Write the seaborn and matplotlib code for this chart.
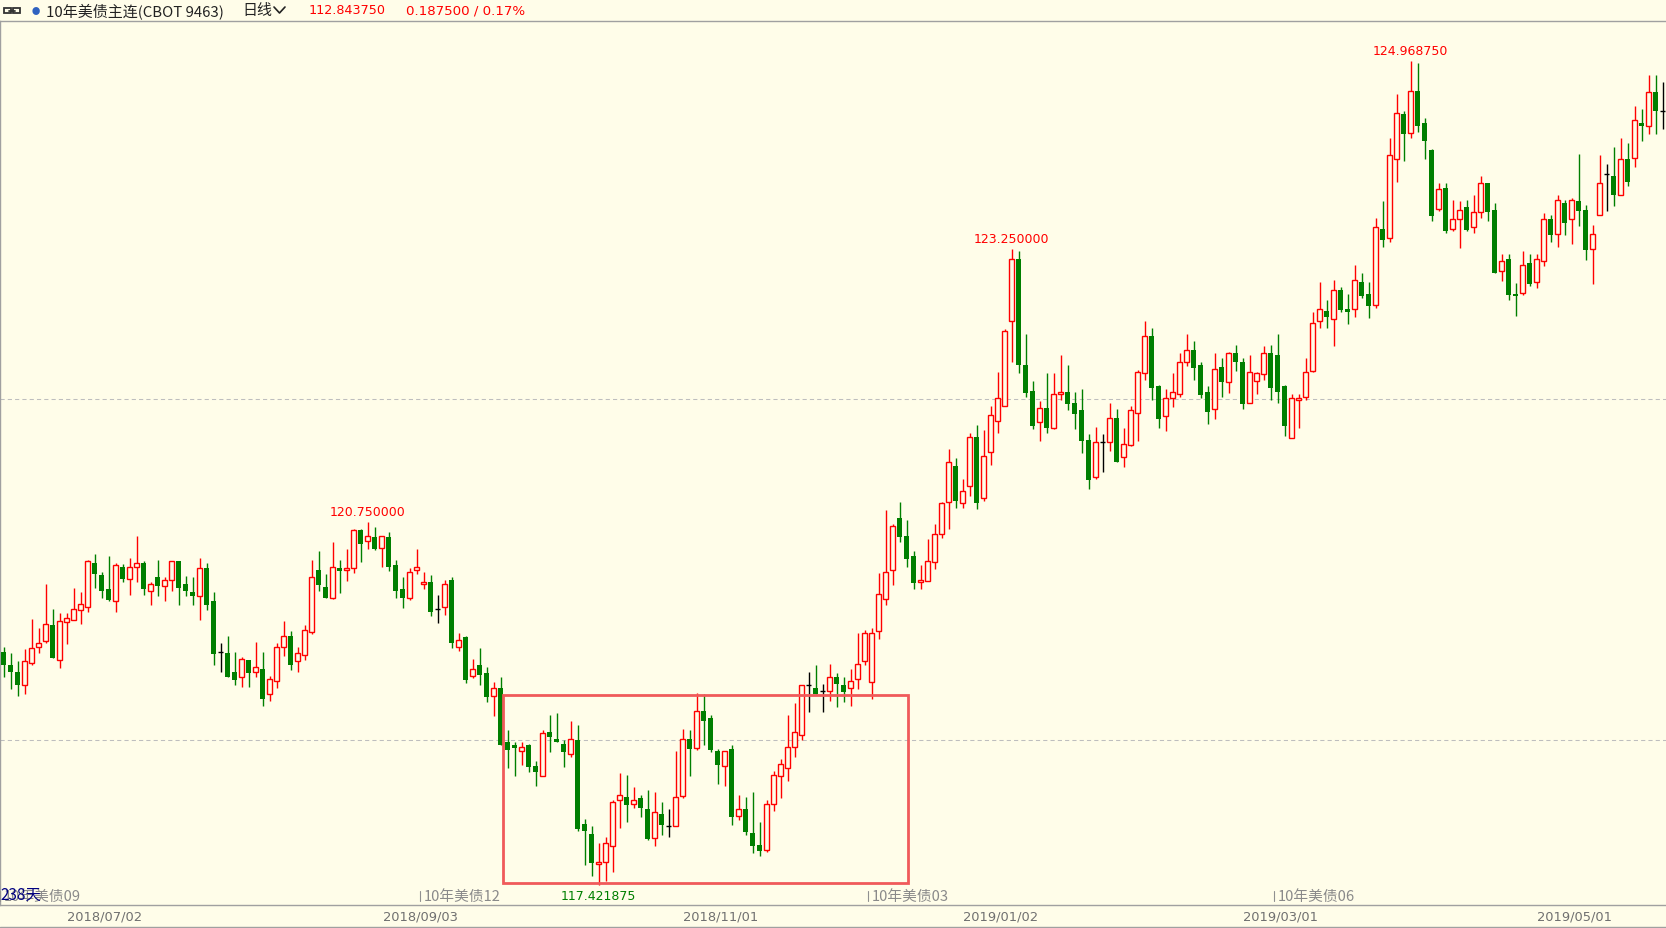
import matplotlib
matplotlib.use("Agg")
import matplotlib.pyplot as plt
import matplotlib.transforms as mtransforms
from matplotlib.lines import Line2D
from matplotlib.patches import Rectangle
import numpy as np
import pandas as pd
import seaborn as sns

# === 10年美债主连 daily candles ===
opens = [
    119.56, 119.44, 119.37, 119.25, 119.46, 119.60, 119.66, 119.80, 119.48, 119.83,
    119.85, 119.94, 119.97, 120.37, 120.26, 120.13, 120.02, 120.34, 120.23, 120.34,
    120.37, 120.12, 120.24, 120.16, 120.22, 120.39, 120.18, 120.11, 120.07, 120.33,
    120.02, 119.56, 119.55, 119.37, 119.33, 119.48, 119.37, 119.40, 119.17, 119.29,
    119.60, 119.70, 119.47, 119.53, 119.74, 120.31, 120.15, 120.05, 120.33, 120.31,
    120.33, 120.67, 120.57, 120.61, 120.51, 120.61, 120.35, 120.13, 120.05, 120.31,
    120.18, 120.20, 119.95, 119.97, 120.22, 119.60, 119.69, 119.34, 119.44, 119.36,
    119.15, 119.23, 118.73, 118.70, 118.65, 118.70, 118.51, 118.42, 118.82, 118.76,
    118.71, 118.62, 118.75, 117.98, 117.89, 117.61, 117.63, 117.78, 118.20, 118.23,
    118.16, 118.22, 118.12, 117.85, 118.07, 117.96, 117.96, 118.24, 118.76, 118.68,
    119.02, 118.95, 118.65, 118.51, 118.67, 118.05, 118.12, 117.90, 117.79, 117.74,
    118.16, 118.42, 118.49, 118.69, 118.80, 119.25, 119.23, 119.20, 119.20, 119.33,
    119.25, 119.23, 119.31, 119.47, 119.28, 119.75, 120.04, 120.31, 120.78, 120.62,
    120.44, 120.20, 120.21, 120.38, 120.64, 120.93, 121.26, 120.92, 121.08, 121.53,
    120.97, 121.39, 121.67, 121.81, 122.59, 123.16, 122.19, 121.95, 121.66, 121.79,
    121.61, 121.92, 121.94, 121.84, 121.77, 121.50, 121.16, 121.48, 121.48, 121.70,
    121.34, 121.45, 121.75, 122.11, 122.45, 121.99, 121.72, 121.88, 121.92, 122.21,
    122.32, 122.19, 121.94, 121.78, 122.17, 122.03, 122.30, 122.21, 121.84, 122.04,
    122.10, 122.30, 122.28, 121.99, 121.52, 121.87, 121.89, 122.13, 122.59, 122.68,
    122.61, 122.87, 122.70, 122.70, 122.95, 122.84, 122.74, 123.43, 123.35, 124.07,
    124.49, 124.31, 124.70, 124.40, 124.16, 123.62, 123.81, 123.43, 123.52, 123.63,
    123.45, 123.59, 123.85, 123.61, 123.05, 123.16, 122.84, 122.85, 123.12, 122.95,
    123.14, 123.52, 123.39, 123.67, 123.52, 123.69, 123.61, 123.25, 123.56, 123.94,
    123.92, 123.74, 124.07, 124.08, 124.40, 124.38, 124.69, 124.51,
]
highs = [
    119.60, 119.55, 119.47, 119.58, 119.86, 119.78, 120.18, 119.95, 119.91, 119.91,
    120.14, 120.11, 120.40, 120.45, 120.29, 120.44, 120.37, 120.36, 120.42, 120.62,
    120.39, 120.20, 120.40, 120.24, 120.39, 120.39, 120.25, 120.24, 120.42, 120.37,
    120.11, 119.64, 119.70, 119.56, 119.51, 119.48, 119.65, 119.56, 119.34, 119.64,
    119.84, 119.75, 119.60, 119.80, 120.40, 120.48, 120.27, 120.56, 120.40, 120.50,
    120.68, 120.68, 120.75, 120.70, 120.62, 120.66, 120.40, 120.24, 120.33, 120.50,
    120.29, 120.26, 120.08, 120.22, 120.24, 119.73, 119.70, 119.49, 119.59, 119.42,
    119.28, 119.33, 118.84, 118.73, 118.73, 118.71, 118.56, 118.84, 118.98, 119.00,
    118.75, 118.92, 118.89, 118.03, 117.96, 117.81, 117.86, 118.20, 118.45, 118.43,
    118.32, 118.25, 118.29, 118.27, 118.18, 118.12, 118.65, 118.85, 118.84, 119.18,
    119.17, 118.98, 118.67, 118.65, 118.70, 118.25, 118.23, 118.27, 118.00, 118.20,
    118.47, 118.58, 118.98, 119.09, 119.25, 119.37, 119.44, 119.26, 119.45, 119.36,
    119.33, 119.40, 119.73, 119.76, 119.78, 120.28, 120.86, 120.73, 120.93, 120.77,
    120.48, 120.35, 120.59, 120.73, 120.93, 121.42, 121.33, 121.14, 121.56, 121.64,
    121.59, 121.81, 122.12, 122.52, 123.25, 123.23, 122.47, 122.04, 121.86, 122.11,
    122.11, 122.28, 122.19, 121.94, 121.97, 121.55, 121.62, 121.55, 121.84, 121.78,
    121.61, 121.81, 122.14, 122.59, 122.53, 122.00, 121.97, 122.11, 122.30, 122.47,
    122.41, 122.21, 121.99, 122.30, 122.25, 122.31, 122.37, 122.25, 122.28, 122.12,
    122.36, 122.37, 122.47, 122.00, 121.92, 121.92, 122.25, 122.67, 122.95, 122.78,
    122.97, 122.90, 122.84, 123.10, 123.03, 122.95, 123.53, 123.69, 124.27, 124.67,
    124.51, 124.96875, 124.95, 124.45, 124.17, 123.85, 123.85, 123.70, 123.69, 123.70,
    123.74, 123.92, 123.85, 123.67, 123.20, 123.20, 122.94, 123.23, 123.20, 123.20,
    123.58, 123.56, 123.74, 123.70, 123.72, 124.12, 123.65, 123.47, 124.11, 124.03,
    124.18, 124.27, 124.22, 124.56, 124.53, 124.84, 124.84, 124.78,
]
lows = [
    119.33, 119.22, 119.15, 119.17, 119.44, 119.55, 119.64, 119.50, 119.41, 119.63,
    119.85, 119.81, 119.92, 120.14, 120.05, 120.02, 119.92, 120.20, 120.08, 120.20,
    120.08, 119.99, 120.07, 120.02, 120.12, 119.99, 120.07, 119.99, 119.85, 119.94,
    119.44, 119.37, 119.33, 119.25, 119.24, 119.24, 119.33, 119.06, 119.11, 119.23,
    119.52, 119.39, 119.37, 119.48, 119.72, 120.12, 120.05, 120.04, 120.10, 120.21,
    120.28, 120.38, 120.50, 120.49, 120.34, 120.30, 120.05, 119.96, 120.03, 120.27,
    120.13, 119.89, 119.82, 119.90, 119.59, 119.57, 119.27, 119.32, 119.25, 119.10,
    118.97, 118.70, 118.49, 118.42, 118.52, 118.46, 118.33, 118.42, 118.64, 118.73,
    118.50, 118.59, 117.92, 117.60, 117.50, 117.421875, 117.46, 117.54, 117.94, 118.00,
    118.13, 118.04, 117.83, 117.78, 117.88, 117.86, 117.96, 118.22, 118.42, 118.66,
    118.70, 118.64, 118.35, 118.33, 117.97, 118.02, 117.88, 117.71, 117.69, 117.72,
    118.10, 118.22, 118.37, 118.59, 118.75, 119.01, 119.17, 119.01, 119.11, 119.05,
    119.10, 119.06, 119.22, 119.44, 119.13, 119.68, 119.99, 120.17, 120.56, 120.34,
    120.13, 120.13, 120.21, 120.32, 120.60, 120.68, 120.88, 120.88, 120.99, 120.87,
    120.94, 121.27, 121.56, 121.81, 122.21, 122.11, 121.89, 121.60, 121.49, 121.56,
    121.60, 121.87, 121.77, 121.60, 121.38, 121.05, 121.14, 121.21, 121.40, 121.30,
    121.25, 121.44, 121.49, 122.05, 121.87, 121.61, 121.58, 121.80, 121.89, 122.18,
    122.05, 121.88, 121.65, 121.69, 121.89, 121.93, 122.13, 121.78, 121.84, 121.92,
    122.05, 121.87, 121.84, 121.54, 121.52, 121.61, 121.87, 122.12, 122.53, 122.53,
    122.36, 122.67, 122.56, 122.63, 122.80, 122.62, 122.71, 123.27, 123.31, 123.86,
    124.06, 124.27, 124.32, 124.07, 123.51, 123.60, 123.40, 123.41, 123.26, 123.41,
    123.40, 123.53, 123.51, 123.03, 122.96, 122.78, 122.64, 122.83, 122.91, 122.89,
    123.09, 123.31, 123.27, 123.38, 123.30, 123.46, 123.15, 122.93, 123.56, 123.60,
    123.64, 123.74, 123.83, 124.00, 124.24, 124.30, 124.30, 124.35,
]
closes = [
    119.44, 119.37, 119.25, 119.47, 119.59, 119.64, 119.81, 119.50, 119.84, 119.87,
    119.95, 120.00, 120.39, 120.27, 120.12, 120.03, 120.35, 120.23, 120.34, 120.37,
    120.13, 120.18, 120.16, 120.22, 120.39, 120.14, 120.12, 120.07, 120.33, 119.99,
    119.54, 119.56, 119.33, 119.30, 119.49, 119.36, 119.42, 119.13, 119.31, 119.60,
    119.70, 119.44, 119.55, 119.76, 120.24, 120.17, 120.05, 120.34, 120.30, 120.33,
    120.67, 120.55, 120.62, 120.50, 120.62, 120.34, 120.12, 120.05, 120.29, 120.34,
    120.20, 119.92, 119.95, 120.18, 119.64, 119.67, 119.30, 119.40, 119.35, 119.14,
    119.23, 118.70, 118.66, 118.68, 118.69, 118.50, 118.46, 118.81, 118.78, 118.73,
    118.64, 118.76, 117.93, 117.92, 117.62, 117.63, 117.81, 118.18, 118.25, 118.15,
    118.20, 118.13, 117.84, 118.09, 117.97, 117.96, 118.23, 118.76, 118.67, 119.02,
    118.92, 118.66, 118.52, 118.65, 118.04, 118.12, 117.91, 117.78, 117.73, 118.16,
    118.43, 118.53, 118.69, 118.82, 119.25, 119.25, 119.17, 119.20, 119.33, 119.26,
    119.19, 119.29, 119.45, 119.73, 119.73, 120.09, 120.29, 120.71, 120.61, 120.41,
    120.19, 120.22, 120.39, 120.64, 120.92, 121.30, 120.94, 121.03, 121.53, 120.92,
    121.35, 121.73, 121.88, 122.50, 123.16, 122.19, 121.93, 121.63, 121.79, 121.61,
    121.92, 121.94, 121.83, 121.74, 121.49, 121.13, 121.48, 121.48, 121.70, 121.30,
    121.46, 121.77, 122.12, 122.45, 121.98, 121.69, 121.88, 121.94, 122.21, 122.32,
    122.16, 121.91, 121.76, 122.15, 122.03, 122.30, 122.21, 121.83, 122.12, 122.11,
    122.30, 121.98, 121.94, 121.63, 121.88, 121.88, 122.12, 122.57, 122.70, 122.63,
    122.87, 122.69, 122.67, 122.97, 122.82, 122.73, 123.45, 123.33, 124.11, 124.50,
    124.30, 124.70, 124.38, 124.24, 123.55, 123.80, 123.41, 123.52, 123.61, 123.42,
    123.59, 123.85, 123.59, 123.03, 123.14, 122.83, 122.82, 123.10, 122.93, 123.16,
    123.52, 123.38, 123.70, 123.49, 123.70, 123.60, 123.24, 123.39, 123.85, 123.94,
    123.74, 124.07, 123.86, 124.43, 124.38, 124.69, 124.51, 124.51,
]

# bottom axis: first candle of each labelled date
date_idx = [15, 60, 103, 143, 183, 225]
date_labels = ["2018/07/02", "2018/09/03", "2018/11/01", "2019/01/02", "2019/03/01", "2019/05/01"]
# contract roll markers
roll_idx = [0, 60, 124, 182]
roll_labels = ["10年美债09", "10年美债12", "10年美债03", "10年美债06"]
# marked extremes
peak_idx = [52, 144, 201]
trough_idx = [85]
grid_prices = [118.75, 121.875]
# highlighted range box (candle index / price)
box_x = (71.4, 129.2)
box_y = (117.44, 119.16)

W, H = 1666, 929
BG = "#FFFDE9"
UP = "#FF0000"
DOWN = "#007F00"

sns.set_theme(style="white", rc={"axes.facecolor": BG, "figure.facecolor": BG,
                                 "savefig.facecolor": BG})
plt.rcParams["font.family"] = ["Noto Sans CJK SC", "DejaVu Sans"]

df = pd.DataFrame({"open": opens, "high": highs, "low": lows, "close": closes})
df["x"] = np.arange(len(df))
df["kind"] = np.where(df.close > df.open, "up", np.where(df.close < df.open, "down", "flat"))
palette = {"up": UP, "down": DOWN, "flat": "black"}


def fx(px):
    return px / W


def fy(py):
    return 1 - py / H


fig = plt.figure(figsize=(W / 100, H / 100), dpi=100)
ax = fig.add_axes([0, fy(906), 1, (906 - 22) / H])

# grid
for p in grid_prices:
    ax.axhline(p, color="#BEBEBE", lw=0.75, ls=(0, (4, 3)), zorder=1)

# wicks
ax.vlines(df.x, df.low, df.high, colors=df.kind.map(palette), lw=1.0, zorder=2)

# bodies
up = df[df.kind == "up"]
dn = df[df.kind == "down"]
fl = df[df.kind == "flat"]
ax.bar(up.x, np.maximum(up.close - up.open, 0.012), bottom=up.open, width=0.58,
       facecolor=BG, edgecolor=UP, linewidth=1.0, zorder=3)
ax.bar(dn.x, np.maximum(dn.open - dn.close, 0.015), bottom=dn.close, width=0.72,
       color=DOWN, linewidth=0, zorder=3)
ax.hlines(fl.close, fl.x - 0.36, fl.x + 0.36, colors="black", lw=1.0, zorder=3)

# extremes
for i in peak_idx:
    ax.annotate(f"{highs[i]:.6f}", xy=(i, highs[i]), xytext=(0, 3), textcoords="offset points",
                ha="center", va="bottom", color="#FF0000", fontsize=9, family="DejaVu Sans")
for i in trough_idx:
    ax.annotate(f"{lows[i]:.6f}", xy=(i, lows[i]), xytext=(0, -3), textcoords="offset points",
                ha="center", va="top", color="#007F00", fontsize=9, family="DejaVu Sans")

ax.add_patch(Rectangle((box_x[0], box_y[0]), box_x[1] - box_x[0], box_y[1] - box_y[0],
                       fill=False, edgecolor="#F05A5A", lw=2.0, zorder=4))

ax.set_xlim(-0.5, len(df) - 0.5)
ax.set_ylim(117.238, 125.339)
ax.set_yticks([])
ax.set_xticks(np.array(date_idx) - 0.5)
ax.set_xticklabels(date_labels, color="#707070", fontsize=9.4, family="DejaVu Sans")
ax.tick_params(axis="x", length=0, pad=3)
ax.grid(False)

sns.despine(ax=ax, right=True, top=False, left=False, bottom=False)
for side in ["left", "top", "bottom"]:
    ax.spines[side].set_color("#A0A0A0")
    ax.spines[side].set_linewidth(1.0)

# contract roll labels along the bottom
trans = mtransforms.blended_transform_factory(ax.transData, ax.transAxes)
for i, lab in zip(roll_idx, roll_labels):
    x0 = i - 0.43
    ax.plot([x0, x0], [0.004, 0.016], transform=trans, color="#909090", lw=0.8, zorder=5)
    ax.text(x0 + 0.4, 0.0105, lab, transform=trans, ha="left", va="center",
            color="#8A8A8A", fontsize=10.6, zorder=5)
ax.text(0.0, 0.0125, f"{len(df)}天", transform=ax.transAxes, ha="left", va="center",
        color="#000080", fontsize=11, zorder=6)

# header bar
fig.add_artist(Rectangle((fx(4), fy(14)), fx(7), 5 / H, transform=fig.transFigure,
                         fill=False, edgecolor="#333333", lw=1.3))
fig.add_artist(Rectangle((fx(13), fy(14)), fx(7), 5 / H, transform=fig.transFigure,
                         fill=False, edgecolor="#333333", lw=1.3))
fig.add_artist(Line2D([fx(9), fx(15)], [fy(11.5), fy(11.5)], transform=fig.transFigure,
                      color="#333333", lw=1.3))
fig.text(fx(36), fy(11.5), "●", ha="center", va="center", color="#2F62C0", fontsize=6)
fig.text(fx(46), fy(11), "10年美债主连(CBOT 9463)", ha="left", va="center",
         color="#222222", fontsize=10.8)
fig.text(fx(242), fy(11), "日线", ha="left", va="center", color="#222222", fontsize=10.8)
fig.add_artist(Line2D([fx(274), fx(279.5), fx(285)], [fy(8), fy(14), fy(8)],
                      transform=fig.transFigure, color="#222222", lw=1.2))
fig.text(fx(309), fy(11), "112.843750", ha="left", va="center", color="#FF0000",
         fontsize=9.2, family="DejaVu Sans")
fig.text(fx(406), fy(11), "0.187500 / 0.17%", ha="left", va="center", color="#FF0000",
         fontsize=9.6, family="DejaVu Sans")
fig.add_artist(Line2D([0, 1], [fy(928), fy(928)], transform=fig.transFigure,
                      color="#A0A0A0", lw=1.0))

fig.savefig("out.png", dpi=100, facecolor=BG)
